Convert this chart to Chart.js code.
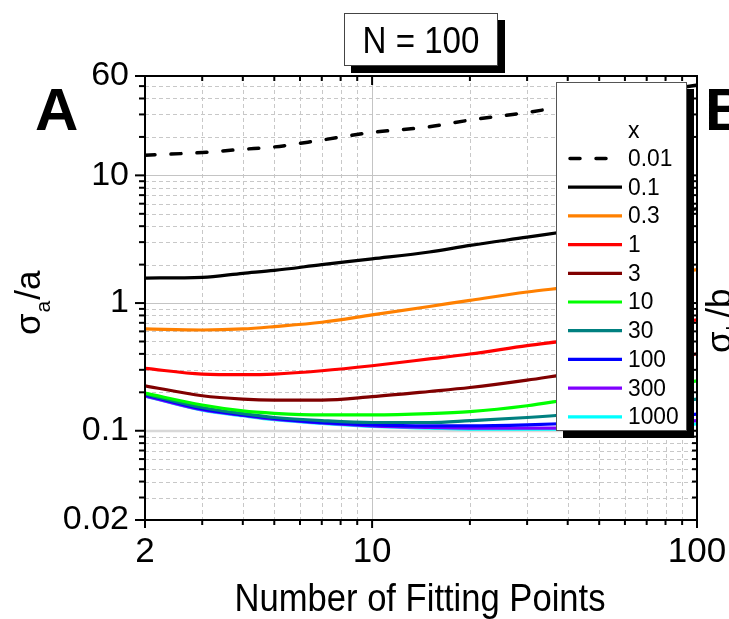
<!DOCTYPE html>
<html>
<head>
<meta charset="utf-8">
<script src="https://cdn.jsdelivr.net/npm/chart.js@4.4.1/dist/chart.umd.min.js"></script>
<style>
  html, body { margin: 0; padding: 0; background: #ffffff; }
  #wrap { width: 729px; height: 619px; position: relative; }
</style>
</head>
<body>
<div id="wrap"><canvas id="chart" width="729" height="619"></canvas></div>
<script>
// Number of fitting points (x) and relative error sigma_a/a for each x value
const fittingPoints = [2, 3, 4, 5, 7, 10, 15, 20, 30, 40, 50, 70, 100];

const seriesLabels = ['0.01', '0.1', '0.3', '1', '3', '10', '30', '100', '300', '1000'];
const seriesColors = ['#000000', '#000000', '#ff8000', '#ff0000', '#800000',
                      '#00ff00', '#008080', '#0000ff', '#8000ff', '#00ffff'];

const errX0_01 = [14.4, 15.1, 16.0, 16.7, 18.9, 21.7, 24.0, 27.1, 31.1, 35.0, 38.5, 44.0, 51.0];
const errX0_1  = [1.57, 1.59, 1.71, 1.80, 2.00, 2.22, 2.51, 2.83, 3.28, 3.65, 3.95, 4.60, 5.50];
const errX0_3  = [0.627, 0.615, 0.627, 0.654, 0.707, 0.807, 0.94, 1.05, 1.22, 1.33, 1.43, 1.60, 1.83];
const errX1    = [0.308, 0.278, 0.275, 0.278, 0.295, 0.323, 0.365, 0.399, 0.464, 0.51, 0.555, 0.63, 0.738];
const errX3    = [0.225, 0.188, 0.177, 0.174, 0.174, 0.185, 0.203, 0.218, 0.249, 0.278, 0.30, 0.345, 0.40];
const errX10   = [0.197, 0.159, 0.143, 0.137, 0.133, 0.133, 0.136, 0.141, 0.157, 0.175, 0.19, 0.215, 0.246];
const errX30   = [0.194, 0.152, 0.136, 0.127, 0.120, 0.116, 0.116, 0.120, 0.127, 0.134, 0.142, 0.158, 0.177];
const errX100  = [0.191, 0.148, 0.133, 0.125, 0.116, 0.111, 0.109, 0.109, 0.111, 0.114, 0.117, 0.125, 0.135];
const errX300  = [0.188, 0.146, 0.132, 0.123, 0.115, 0.109, 0.106, 0.105, 0.105, 0.105, 0.107, 0.112, 0.120];
const errX1000 = [0.187, 0.145, 0.131, 0.122, 0.114, 0.108, 0.105, 0.103, 0.103, 0.103, 0.104, 0.107, 0.113];

const seriesValues = [errX0_01, errX0_1, errX0_3, errX1, errX3, errX10, errX30, errX100, errX300, errX1000];

// Axis ranges and labelled ticks
const xRange = [2, 100];
const yRange = [0.02, 60];
const xTickValues = [2, 10, 100];
const yTickValues = [0.02, 0.1, 1, 10, 60];
const xMinorValues = [3, 4, 5, 6, 7, 8, 9, 20, 30, 40, 50, 60, 70, 80, 90];
const yMinorValues = [0.03, 0.04, 0.05, 0.06, 0.07, 0.08, 0.09,
                      0.2, 0.3, 0.4, 0.5, 0.6, 0.7, 0.8, 0.9,
                      2, 3, 4, 5, 6, 7, 8, 9, 20, 30, 40, 50];
const yMajorGrid = [0.1, 1, 10];
const xMajorGrid = [10];

const FONT = "'Liberation Sans', Arial, Helvetica, sans-serif";

const datasets = seriesLabels.map((label, i) => ({
  label: label,
  data: fittingPoints.map((x, j) => ({ x: x, y: seriesValues[i][j] })),
  borderColor: seriesColors[i],
  backgroundColor: seriesColors[i],
  borderWidth: i === 0 ? 3.5 : 3.2,
  borderDash: i === 0 ? [10, 16] : [],
  borderCapStyle: i === 0 ? 'round' : 'butt',
  pointRadius: 0,
  cubicInterpolationMode: 'monotone',
  fill: false
}));

// Text drawn with a slight horizontal squeeze (condensed look)
function squeezedText(ctx, text, x, y, size, scaleX, align, weight) {
  ctx.save();
  ctx.font = (weight || 'normal') + ' ' + size + 'px ' + FONT;
  ctx.translate(x, y);
  ctx.scale(scaleX, 1);
  ctx.textAlign = align || 'left';
  ctx.fillText(text, 0, 0);
  ctx.restore();
}

// sigma with a subscript, then "/" and the variable, written upward
function sigmaTitle(ctx, x, y, sub, tail, size) {
  ctx.save();
  ctx.translate(x, y);
  ctx.rotate(-Math.PI / 2);
  ctx.fillStyle = '#000';
  ctx.textBaseline = 'alphabetic';
  ctx.textAlign = 'left';
  ctx.font = size + 'px ' + FONT;
  ctx.fillText('σ', 0, 0);
  let w = ctx.measureText('σ').width;
  const subSize = Math.round(size * 0.6);
  ctx.font = subSize + 'px ' + FONT;
  ctx.fillText(sub, w + 1, size * 0.28);
  w += 1 + ctx.measureText(sub).width;
  ctx.font = size + 'px ' + FONT;
  ctx.fillText(tail, w + 1, 0);
  ctx.restore();
}

const framePlugin = {
  id: 'frame',
  beforeDatasetsDraw(chart) {
    const { ctx, chartArea: a, scales: { x, y } } = chart;
    ctx.save();
    // minor dashed grid
    ctx.strokeStyle = '#c8c8c8';
    ctx.lineWidth = 1;
    ctx.setLineDash([4, 3]);
    xMinorValues.forEach(v => {
      const px = Math.round(x.getPixelForValue(v)) + 0.5;
      ctx.beginPath(); ctx.moveTo(px, a.top); ctx.lineTo(px, a.bottom); ctx.stroke();
    });
    yMinorValues.forEach(v => {
      const py = Math.round(y.getPixelForValue(v)) + 0.5;
      ctx.beginPath(); ctx.moveTo(a.left, py); ctx.lineTo(a.right, py); ctx.stroke();
    });
    // major solid grid
    ctx.setLineDash([]);
    ctx.strokeStyle = '#c4c4c4';
    xMajorGrid.forEach(v => {
      const px = Math.round(x.getPixelForValue(v)) + 0.5;
      ctx.beginPath(); ctx.moveTo(px, a.top); ctx.lineTo(px, a.bottom); ctx.stroke();
    });
    yMajorGrid.forEach(v => {
      const py = Math.round(y.getPixelForValue(v));
      ctx.lineWidth = v === 0.1 ? 2.5 : 1;
      ctx.strokeStyle = v === 0.1 ? '#d8d8d8' : '#c4c4c4';
      const off = v === 0.1 ? 0 : 0.5;
      ctx.beginPath(); ctx.moveTo(a.left, py + off); ctx.lineTo(a.right, py + off); ctx.stroke();
    });
    ctx.restore();
  },
  afterDatasetsDraw(chart) {
    const { ctx, chartArea: a, scales: { x, y } } = chart;
    ctx.save();
    ctx.strokeStyle = '#000';
    ctx.fillStyle = '#000';
    ctx.setLineDash([]);
    // tick marks: outward on left/bottom, inward on top/right
    ctx.lineWidth = 2;
    const tick = (x1, y1, x2, y2) => { ctx.beginPath(); ctx.moveTo(x1, y1); ctx.lineTo(x2, y2); ctx.stroke(); };
    xTickValues.concat(xMinorValues).forEach(v => {
      const major = xTickValues.includes(v);
      const px = x.getPixelForValue(v);
      tick(px, a.bottom, px, a.bottom + (major ? 8 : 5));
      tick(px, a.top, px, a.top + (major ? 9 : 5));
    });
    yTickValues.concat(yMinorValues).forEach(v => {
      const major = yTickValues.includes(v);
      const py = y.getPixelForValue(v);
      tick(a.left, py, a.left - (major ? 10 : 6), py);
      tick(a.right, py, a.right - (major ? 9 : 5), py);
    });
    // axis frame
    ctx.lineWidth = 2;
    ctx.strokeRect(a.left, a.top, a.right - a.left, a.bottom - a.top);

    // legend box with drop shadow
    const lx = 556, ly = 82, lw = 131, lh = 349, sh = 7;
    ctx.fillStyle = '#000';
    ctx.fillRect(lx + sh, ly + sh, lw, lh);
    ctx.fillStyle = '#fff';
    ctx.fillRect(lx, ly, lw, lh);
    ctx.strokeStyle = '#555';
    ctx.lineWidth = 1;
    ctx.strokeRect(lx + 0.5, ly + 0.5, lw - 1, lh - 1);
    ctx.fillStyle = '#000';
    ctx.textBaseline = 'middle';
    squeezedText(ctx, 'x', 628, 132, 23, 1, 'left');
    chart.data.datasets.forEach((ds, i) => {
      const ry = 158.5 + i * 28.7;
      ctx.save();
      ctx.strokeStyle = ds.borderColor;
      ctx.lineWidth = ds.borderWidth;
      ctx.lineCap = ds.borderCapStyle;
      ctx.setLineDash(ds.borderDash);
      ctx.beginPath();
      if (ds.borderDash.length) {
        ctx.lineDashOffset = -2;
        ctx.moveTo(568, ry); ctx.lineTo(612, ry);
      } else {
        ctx.moveTo(568, ry); ctx.lineTo(622, ry);
      }
      ctx.stroke();
      ctx.restore();
      ctx.fillStyle = '#000';
      ctx.textBaseline = 'middle';
      squeezedText(ctx, ds.label, 628, ry + 1, 23.5, 0.97, 'left');
    });

    // "N = 100" title box with drop shadow
    const tx = 344, ty = 13, tw = 154, th = 53;
    ctx.fillStyle = '#000';
    ctx.fillRect(tx + sh, ty + sh, tw, th);
    ctx.fillStyle = '#fff';
    ctx.fillRect(tx, ty, tw, th);
    ctx.strokeStyle = '#444';
    ctx.lineWidth = 1;
    ctx.strokeRect(tx + 0.5, ty + 0.5, tw - 1, th - 1);
    ctx.fillStyle = '#000';
    ctx.textBaseline = 'alphabetic';
    squeezedText(ctx, 'N = 100', 421, 53, 36, 0.92, 'center');

    // axis titles
    squeezedText(ctx, 'Number of Fitting Points', 420, 611, 38, 0.91, 'center');
    sigmaTitle(ctx, 40, 335, 'a', '/a', 35);
    sigmaTitle(ctx, 731, 353, 'b', '/b', 35);

    // panel letters
    squeezedText(ctx, 'A', 35, 130, 60, 1, 'left', 'bold');
    squeezedText(ctx, 'B', 705, 130, 60, 1, 'left', 'bold');
    ctx.restore();
  }
};

new Chart(document.getElementById('chart'), {
  type: 'line',
  data: { datasets: datasets },
  options: {
    responsive: false,
    animation: false,
    devicePixelRatio: 1,
    parsing: true,
    layout: { padding: { left: 0, right: 32, top: 76, bottom: 0 } },
    plugins: { legend: { display: false }, tooltip: { enabled: false }, title: { display: false } },
    scales: {
      x: {
        type: 'logarithmic',
        min: xRange[0], max: xRange[1],
        grid: { display: false, drawTicks: false },
        border: { display: false },
        afterBuildTicks: s => { s.ticks = xTickValues.map(v => ({ value: v })); },
        afterFit: s => { s.height = 99; s.paddingLeft = 0; s.paddingRight = 0; },
        ticks: {
          autoSkip: false, maxRotation: 0, padding: 11, color: '#000',
          font: { family: FONT, size: 35 },
          callback: v => String(v)
        }
      },
      y: {
        type: 'logarithmic',
        min: yRange[0], max: yRange[1],
        grid: { display: false, drawTicks: false },
        border: { display: false },
        afterBuildTicks: s => { s.ticks = yTickValues.map(v => ({ value: v })); },
        afterFit: s => { s.width = 145; s.paddingTop = 0; s.paddingBottom = 0; },
        ticks: {
          autoSkip: false, padding: 16, color: '#000',
          font: { family: FONT, size: 34 },
          callback: v => String(v)
        }
      }
    }
  },
  plugins: [framePlugin]
});
</script>
</body>
</html>
